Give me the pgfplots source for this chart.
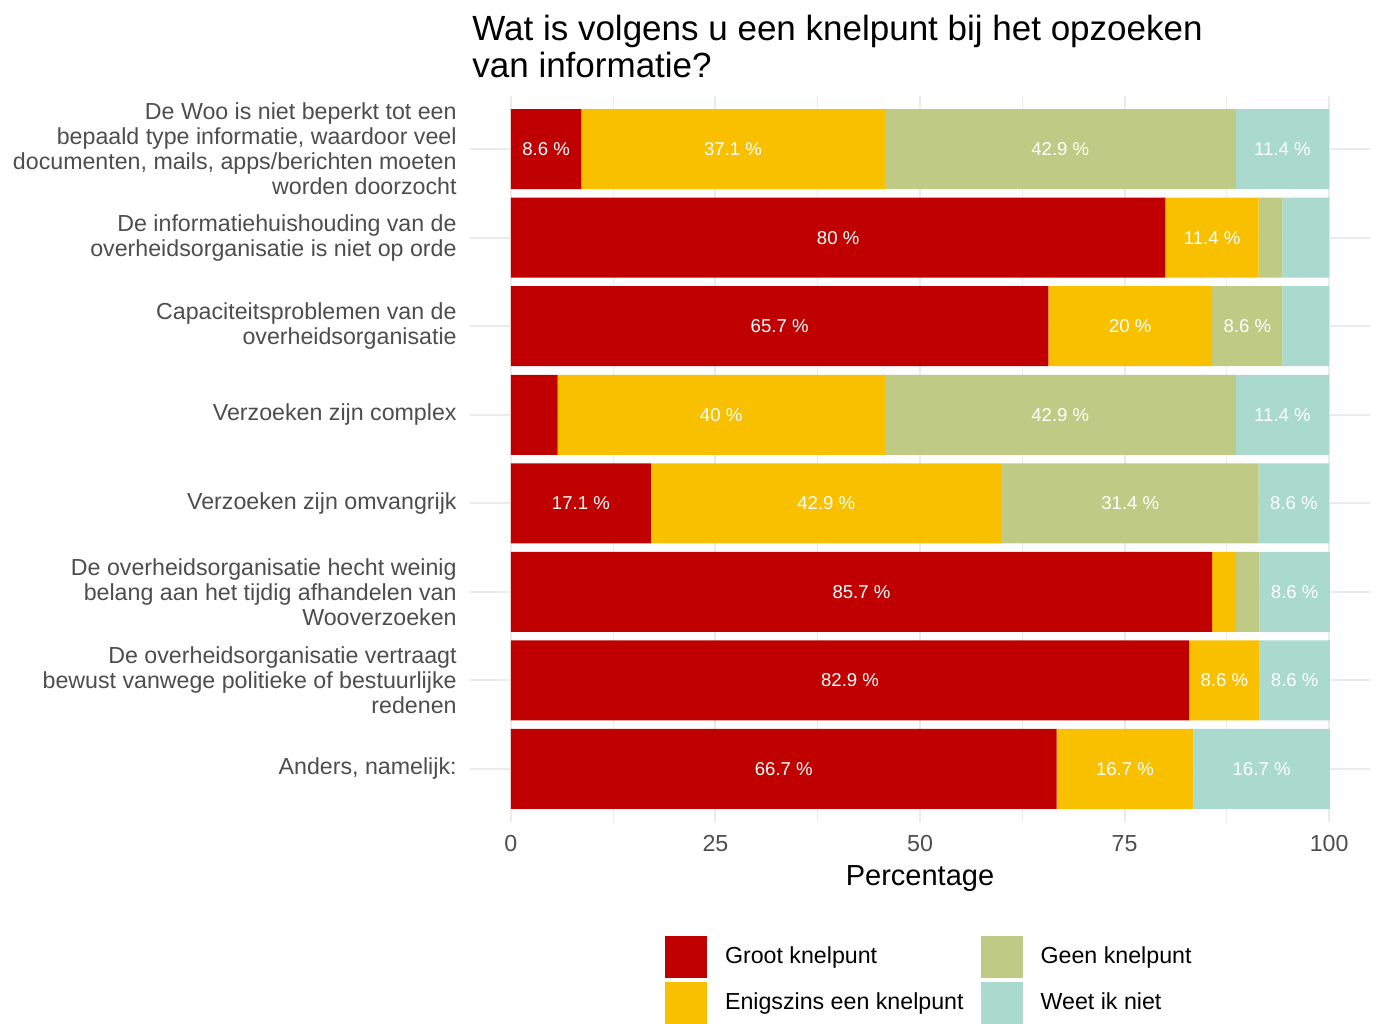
\documentclass[border=0pt]{standalone}
\usepackage{fontspec}
\setmainfont{Liberation Sans}
\usepackage{pgfplots}
\usepackage{pgfplotstable}
\pgfplotsset{compat=1.18}

\definecolor{groot}{HTML}{C00000}
\definecolor{enigszins}{HTML}{F9C000}
\definecolor{geen}{HTML}{BFCB84}
\definecolor{weet}{HTML}{AAD9CE}
\definecolor{gridgrey}{HTML}{EBEBEB}
\definecolor{txtgrey}{HTML}{4D4D4D}

% percentages per item (row 1 = top)
\pgfplotstableread{
row g    e    n    w
1   8.6  37.1 42.9 11.4
2   80   11.4 2.9  5.7
3   65.7 20   8.6  5.7
4   5.7  40   42.9 11.4
5   17.1 42.9 31.4 8.6
6   85.7 2.9  2.9  8.6
7   82.9 8.6  0    8.6
8   66.7 16.7 0    16.7
}\knelpunt

% one stacked segment; labels sit in the middle of the segment, small ones hidden
\pgfplotsset{
  seg/.style={draw=none, forget plot,
    visualization depends on={\thisrow{#1}\as\val},
    nodes near coords={\ifdim\val pt<7pt\else\pgfmathprintnumber{\val}~\%\fi},
    every node near coord/.style={anchor=center, text=white,
      font=\fontsize{9.3}{10}\selectfont}},
}

\begin{document}
\begin{tikzpicture}
\useasboundingbox (0,0) rectangle (692pt,-511.5pt);
\begin{axis}[
  at={(235pt,-411pt)}, anchor=south west,
  width=450pt, height=363pt, scale only axis,
  xbar stacked, bar width=40pt,
  xmin=-5, xmax=105, ymin=0.4, ymax=8.6, y dir=reverse,
  axis line style={draw=none}, tick style={draw=none},
  xmajorgrids, xminorgrids, ymajorgrids,
  major grid style={gridgrey, line width=1pt},
  minor grid style={gridgrey, line width=0.5pt},
  xtick={0,25,50,75,100},
  minor xtick={12.5,37.5,62.5,87.5},
  ytick={1,...,8},
  yticklabels={
    {De Woo is niet beperkt tot een\\bepaald type informatie, waardoor veel\\documenten, mails, apps/berichten moeten\\worden doorzocht},
    {De informatiehuishouding van de\\overheidsorganisatie is niet op orde},
    {Capaciteitsproblemen van de\\overheidsorganisatie},
    {Verzoeken zijn complex},
    {Verzoeken zijn omvangrijk},
    {De overheidsorganisatie hecht weinig\\belang aan het tijdig afhandelen van\\Wooverzoeken},
    {De overheidsorganisatie vertraagt\\bewust vanwege politieke of bestuurlijke\\redenen},
    {Anders, namelijk:}},
  /pgf/number format/assume math mode=true,
  xticklabel style={font=\fontsize{11.6}{13}\selectfont, text=txtgrey, inner sep=0pt, yshift=-6.5pt},
  yticklabel style={font=\fontsize{11.6}{12.5}\selectfont, text=txtgrey, align=right, inner sep=0pt, xshift=-6.5pt},
  xlabel={Percentage},
  xlabel style={at={(axis description cs:0.5,-0.078)}, anchor=center, inner sep=0pt, font=\fontsize{14.5}{16}\selectfont},
  title={Wat is volgens u een knelpunt bij het opzoeken\\van informatie?},
  title style={at={(axis description cs:0,1)}, anchor=south west, align=left, inner sep=0pt, xshift=1pt, yshift=3pt, font=\fontsize{17.5}{18.5}\selectfont},
  legend columns=2, legend cell align=left,
  legend image code/.code={\fill[#1] (0pt,-10.5pt) rectangle (21pt,10.5pt);},
  legend style={at={(axis description cs:0.2167,-0.157)}, anchor=north west, draw=none, fill=none,
    inner sep=0pt, outer sep=0pt, font=\fontsize{11.6}{13}\selectfont, nodes={inner sep=0pt}, row sep=2pt,
    /tikz/every odd column/.append style={column sep=9pt},
    /tikz/every even column/.append style={column sep=8.5pt}},
]
\addplot[fill=groot, seg=g] table[x=g, y=row] {\knelpunt};
\addplot[fill=enigszins, seg=e] table[x=e, y=row] {\knelpunt};
\addplot[fill=geen, seg=n] table[x=n, y=row] {\knelpunt};
\addplot[fill=weet, seg=w] table[x=w, y=row] {\knelpunt};
\addlegendimage{fill=groot, draw=none}
\addlegendentry{Groot knelpunt}
\addlegendimage{fill=geen, draw=none}
\addlegendentry{Geen knelpunt}
\addlegendimage{fill=enigszins, draw=none}
\addlegendentry{Enigszins een knelpunt}
\addlegendimage{fill=weet, draw=none}
\addlegendentry{Weet ik niet}
\end{axis}
\end{tikzpicture}
\end{document}
